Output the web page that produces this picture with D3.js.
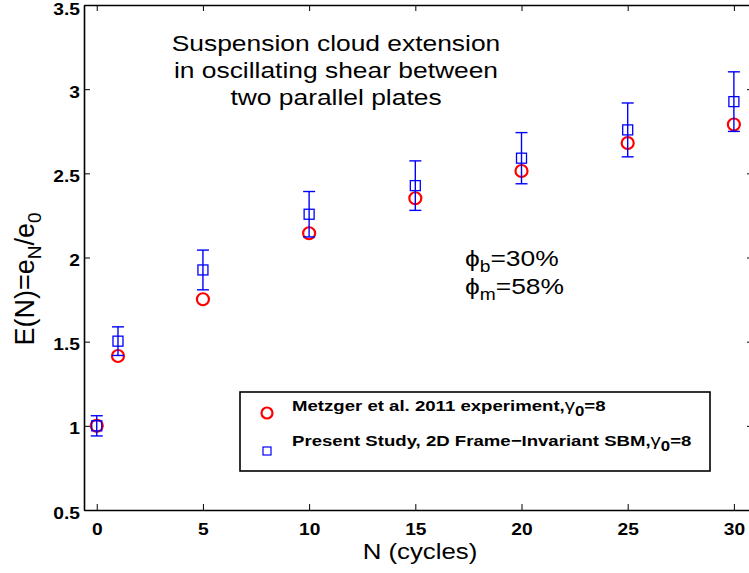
<!DOCTYPE html>
<html><head><meta charset="utf-8">
<script src="https://cdn.jsdelivr.net/npm/d3@7/dist/d3.min.js"></script>
<style>
body{margin:0;background:#fff}
svg{display:block}
text{font-family:"Liberation Sans",Arial,Helvetica,sans-serif;fill:#000}
</style>
</head><body>
<svg id="chart" width="749" height="573"></svg>
<script>
// ---- data ----
const cycles = [0, 1, 5, 10, 15, 20, 25, 30];
const metzger = [1.00, 1.415, 1.752, 2.144, 2.352, 2.514, 2.68, 2.79];
const present = [1.00, 1.503, 1.926, 2.257, 2.427, 2.59, 2.758, 2.926];
const presentErr = [0.06, 0.085, 0.118, 0.135, 0.147, 0.152, 0.16, 0.177];
const xTicks = [0, 5, 10, 15, 20, 25, 30];
const yTicks = [0.5, 1, 1.5, 2, 2.5, 3, 3.5];
const titleLines = ["Suspension cloud extension", "in oscillating shear between", "two parallel plates"];
const seriesNames = ["Metzger et al. 2011 experiment,", "Present Study, 2D Frame\u2212Invariant SBM,"];

// ---- layout ----
const SX = 1.2; // horizontal stretch of the original raster
const L = 84, R = 753, T = 5, B = 510;
const svg = d3.select("#chart");
const x = d3.scaleLinear().domain([-0.6, 30.9]).range([L, R]);
const y = d3.scaleLinear().domain([0.5, 3.5]).range([B, T]);

// axes
const gx = svg.append("g").attr("transform", `translate(0,${B})`)
  .call(d3.axisBottom(x).tickValues(xTicks).tickSizeInner(-6).tickSizeOuter(0).tickPadding(14).tickFormat(d3.format("d")));
const gxt = svg.append("g").attr("transform", `translate(0,${T})`)
  .call(d3.axisTop(x).tickValues(xTicks).tickSizeInner(-6).tickSizeOuter(0).tickFormat(""));
const gy = svg.append("g").attr("transform", `translate(${L},0)`)
  .call(d3.axisLeft(y).tickValues(yTicks).tickSizeInner(-6).tickSizeOuter(0).tickPadding(4).tickFormat(d => d3.format("")(d)));
const gyr = svg.append("g").attr("transform", `translate(${R},0)`)
  .call(d3.axisRight(y).tickValues(yTicks).tickSizeInner(-6).tickSizeOuter(0).tickFormat(""));
[gx, gxt, gy, gyr].forEach(g => {
  g.select(".domain").attr("stroke", "#000").attr("stroke-width", 1.6);
  g.selectAll(".tick line").attr("stroke", "#000").attr("stroke-width", 1);
  g.selectAll("text").attr("font-size", 16).attr("font-weight", "bold")
    .attr("font-family", '"Liberation Sans",Arial,sans-serif').attr("fill", "#000");
});
gx.selectAll(".tick text").attr("transform", `scale(${SX},1)`);
gy.selectAll(".tick text").attr("transform", `translate(0,3) scale(${SX},1)`).attr("x", -4 / SX);
gy.selectAll(".tick").filter(d => d === 3.5).select("text").attr("transform", `translate(0,4) scale(${SX},1)`);

// series 1: red circles
svg.append("g").selectAll("circle").data(cycles).join("circle")
  .attr("cx", d => x(d)).attr("cy", (d, i) => y(metzger[i])).attr("r", 6)
  .attr("fill", "none").attr("stroke", "#ff0000").attr("stroke-width", 2.2);

// series 2: blue squares with error bars
const gb = svg.append("g").attr("stroke", "#0000ff").attr("fill", "none");
cycles.forEach((c, i) => {
  const cx = x(c), v = present[i], e = presentErr[i];
  gb.append("line").attr("x1", cx).attr("x2", cx).attr("y1", y(v + e)).attr("y2", y(v - e)).attr("stroke-width", 1.4);
  gb.append("line").attr("x1", cx - 6).attr("x2", cx + 6).attr("y1", y(v + e)).attr("y2", y(v + e)).attr("stroke-width", 1.4);
  gb.append("line").attr("x1", cx - 6).attr("x2", cx + 6).attr("y1", y(v - e)).attr("y2", y(v - e)).attr("stroke-width", 1.4);
  gb.append("rect").attr("x", cx - 5).attr("y", y(v) - 5).attr("width", 10).attr("height", 10).attr("stroke-width", 1.3);
});

// title annotation
const tt = svg.append("g");
titleLines.forEach((s, i) => {
  tt.append("text").attr("transform", `translate(336,${51 + i * 27}) scale(${SX},1)`)
    .attr("text-anchor", "middle").attr("font-size", 22).text(s);
});

// phi annotation
function phiLine(yy, sub, val) {
  const t = svg.append("text").attr("transform", `translate(465,${yy}) scale(${SX},1)`).attr("font-size", 22);
  t.append("tspan").text("\u03d5");
  t.append("tspan").attr("font-size", 16).attr("dy", 6).text(sub);
  t.append("tspan").attr("dy", -6).text(val);
}
phiLine(266, "b", "=30%");
phiLine(294, "m", "=58%");

// axis labels
svg.append("text").attr("transform", `translate(420,559) scale(${SX},1)`).attr("text-anchor", "middle")
  .attr("font-size", 21.5).text("N (cycles)");
const yl = svg.append("text").attr("transform", `translate(34,279) rotate(-90)`)
  .attr("text-anchor", "middle").attr("font-size", 27);
yl.append("tspan").text("E(N)=e");
yl.append("tspan").attr("font-size", 19).attr("dy", 7).text("N");
yl.append("tspan").attr("dy", -7).text("/e");
yl.append("tspan").attr("font-size", 19).attr("dy", 7).text("0");

// legend
const lg = svg.append("g");
lg.append("rect").attr("x", 240).attr("y", 392).attr("width", 470).attr("height", 79)
  .attr("fill", "#fff").attr("stroke", "#000").attr("stroke-width", 1.6);
lg.append("circle").attr("cx", 267).attr("cy", 413).attr("r", 5.5)
  .attr("fill", "none").attr("stroke", "#ff0000").attr("stroke-width", 2.2);
lg.append("rect").attr("x", 263).attr("y", 447).attr("width", 8).attr("height", 8)
  .attr("fill", "none").attr("stroke", "#0000ff").attr("stroke-width", 1.2);
[411, 446].forEach((yy, i) => {
  const t = lg.append("text").attr("transform", `translate(292,${yy}) scale(${SX},1)`)
    .attr("font-size", 15.5).attr("font-weight", "bold");
  t.append("tspan").text(seriesNames[i]);
  t.append("tspan").attr("font-weight", "normal").attr("font-size", 17).text("\u03b3");
  t.append("tspan").attr("font-size", 14).attr("dy", 5).text("0");
  t.append("tspan").attr("dy", -5).text("=8");
});
</script>
</body></html>
